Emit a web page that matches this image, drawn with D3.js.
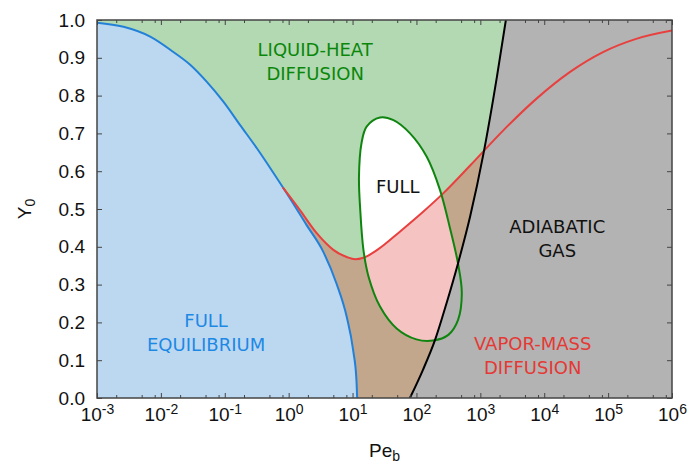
<!DOCTYPE html>
<html>
  <head>
    <meta http-equiv="Content-Type" content="text/html;charset=utf-8">
    <title>Regime map</title>
    <script type="text/javascript" src="https://d3js.org/d3.v7.min.js"></script>
    <style>
      body {
        margin: 0;
        background: #fff;
      }
      .axis text {
        font-family: 'Liberation Sans', Arial, sans-serif;
        font-size: 19px;
        fill: #111;
      }
      .axis line {
        stroke: #444;
        stroke-width: 1;
      }
      .axis path.domain {
        display: none;
      }
      text.title {
        font-family: 'Liberation Sans', Arial, sans-serif;
        font-size: 19px;
        fill: #111;
      }
      text.region {
        font-family: 'DejaVu Sans', sans-serif;
        font-size: 18px;
        text-anchor: middle;
      }
      path.curve {
        fill: none;
        stroke-width: 2px;
      }
    </style>
  </head>
  <body>
    <div id="chart"></div>
    <script>
// Pe_b - Y0 regime map, curves as [Pe, Y0]

var fullEquilibrium = [
  [0.001, 0.993], [0.0026, 0.982], [0.0068, 0.956], [0.0155, 0.916], [0.029, 0.881],
  [0.052, 0.837], [0.095, 0.784], [0.174, 0.722], [0.32, 0.660], [0.575, 0.596],
  [1.05, 0.528], [1.9, 0.458], [3.5, 0.386], [5.6, 0.303], [8.1, 0.215],
  [10.2, 0.127], [11.5, 0.048], [11.8, 0.0]
];

var vaporMass = [
  [0.81, 0.557], [1.5, 0.497], [2.75, 0.436], [5.0, 0.392], [8.1, 0.373],
  [11, 0.367], [14.8, 0.371], [25, 0.393], [55, 0.440], [126, 0.492],
  [257, 0.540], [692, 0.615], [2290, 0.708], [7590, 0.792], [25100, 0.862],
  [83200, 0.915], [275000, 0.950], [1000000, 0.972]
];

var adiabaticGas = [
  [79, 0.0], [126, 0.074], [195, 0.153], [295, 0.25], [447, 0.356],
  [692, 0.48], [1122, 0.647], [1820, 0.85], [2510, 1.0]
];

var liquidHeatLoop = [
  [26.9, 0.742], [16.6, 0.718], [13.8, 0.674], [12.6, 0.585], [13.2, 0.497],
  [14.8, 0.392], [17.8, 0.321], [26.9, 0.242], [49, 0.184], [100, 0.155],
  [182, 0.152], [316, 0.167], [447, 0.206], [513, 0.277], [447, 0.356],
  [331, 0.453], [234, 0.550], [145, 0.638], [79.4, 0.700], [43.7, 0.735]
];

var xTicks = [1e-3, 1e-2, 1e-1, 1e0, 1e1, 1e2, 1e3, 1e4, 1e5, 1e6];
var xMinor = [2, 5, 8];
var yTicks = [0, 0.1, 0.2, 0.3, 0.4, 0.5, 0.6, 0.7, 0.8, 0.9, 1.0];

var labels = [
  {lines: ["LIQUID-HEAT", "DIFFUSION"], pe: 2.6, y0: 0.905, color: "#0a870a"},
  {lines: ["FULL"], pe: 51, y0: 0.542, color: "#111"},
  {lines: ["ADIABATIC", "GAS"], pe: 16000, y0: 0.437, color: "#111"},
  {lines: ["FULL", "EQUILIBRIUM"], pe: 0.051, y0: 0.188, color: "#1e88e5"},
  {lines: ["VAPOR-MASS", "DIFFUSION"], pe: 6600, y0: 0.127, color: "#e53935"}
];

var width = 691,
    height = 467,
    pLeft = 97, pRight = 672, pTop = 20, pBottom = 398;

var x = d3.scaleLog().domain([1e-3, 1e6]).range([pLeft, pRight]);
var y = d3.scaleLinear().domain([0, 1]).range([pBottom, pTop]);

var svg = d3.select("#chart").append("svg")
    .attr("width", width)
    .attr("height", height);

var smooth = d3.line()
    .x(function(d) { return x(d[0]); })
    .y(function(d) { return y(d[1]); })
    .curve(d3.curveMonotoneX);

var loop = d3.line()
    .x(function(d) { return x(d[0]); })
    .y(function(d) { return y(d[1]); })
    .curve(d3.curveCatmullRomClosed.alpha(0.5));

var under = d3.area()
    .x(function(d) { return x(d[0]); })
    .y0(y(0))
    .y1(function(d) { return y(d[1]); })
    .curve(d3.curveMonotoneX);

var defs = svg.append("defs");
defs.append("clipPath").attr("id", "plot")
  .append("rect")
    .attr("x", pLeft).attr("y", pTop)
    .attr("width", pRight - pLeft).attr("height", pBottom - pTop);
defs.append("clipPath").attr("id", "belowRed")
  .append("path")
    .attr("d", under(vaporMass));

var plot = svg.append("g").attr("clip-path", "url(#plot)");

// liquid-heat background
plot.append("rect")
    .attr("x", pLeft).attr("y", pTop)
    .attr("width", pRight - pLeft).attr("height", pBottom - pTop)
    .attr("fill", "#b3d9b3");

plot.append("path")
    .attr("d", under(vaporMass))
    .attr("fill", "#c3a78c");

// FULL region inside the loop: white above red, pink below
plot.append("path")
    .attr("d", loop(liquidHeatLoop))
    .attr("fill", "#fff");
plot.append("g").attr("clip-path", "url(#belowRed)")
  .append("path")
    .attr("d", loop(liquidHeatLoop))
    .attr("fill", "#f6c3c3");

plot.append("path")
    .attr("d", under(fullEquilibrium))
    .attr("fill", "#bcd8f0");

// adiabatic gas: everything right of the black curve
plot.append("path")
    .attr("d", smooth(adiabaticGas) + "L" + x(1e6) + "," + y(1) + "L" + x(1e6) + "," + y(0) + "Z")
    .attr("fill", "#b3b3b3");

plot.append("path").attr("class", "curve")
    .attr("d", smooth(fullEquilibrium))
    .attr("stroke", "#2280d8");
plot.append("path").attr("class", "curve")
    .attr("d", smooth(vaporMass))
    .attr("stroke", "#e8403f");
plot.append("path").attr("class", "curve")
    .attr("d", loop(liquidHeatLoop))
    .attr("stroke", "#0f850f");
plot.append("path").attr("class", "curve")
    .attr("d", smooth(adiabaticGas))
    .attr("stroke", "#000");

// region names
labels.forEach(function(l) {
  var t = svg.append("text")
      .attr("class", "region")
      .attr("fill", l.color)
      .attr("x", x(l.pe))
      .attr("y", y(l.y0));
  l.lines.forEach(function(s, i) {
    t.append("tspan")
        .attr("x", x(l.pe))
        .attr("dy", i == 0 ? 0 : "1.35em")
        .text(s);
  });
});

// axes, ticks inward on all four sides
var minors = [];
xTicks.slice(0, -1).forEach(function(d) {
  xMinor.forEach(function(m) { minors.push(d * m); });
});

svg.append("g").attr("class", "axis")
    .attr("transform", "translate(0," + pBottom + ")")
    .call(d3.axisBottom(x).tickValues(xTicks).tickSize(-5).tickPadding(10)
      .tickFormat(function() { return "10"; }))
  .selectAll(".tick text")
    .each(function(d) {
      d3.select(this).append("tspan")
          .attr("dy", "-0.55em")
          .attr("font-size", "14px")
          .text(Math.round(Math.log10(d)));
    });
svg.append("g").attr("class", "axis")
    .attr("transform", "translate(0," + pBottom + ")")
    .call(d3.axisBottom(x).tickValues(minors).tickSize(-3).tickFormat(""));
svg.append("g").attr("class", "axis")
    .attr("transform", "translate(0," + pTop + ")")
    .call(d3.axisTop(x).tickValues(xTicks).tickSize(-5).tickFormat(""));
svg.append("g").attr("class", "axis")
    .attr("transform", "translate(0," + pTop + ")")
    .call(d3.axisTop(x).tickValues(minors).tickSize(-3).tickFormat(""));

svg.append("g").attr("class", "axis")
    .attr("transform", "translate(" + pLeft + ",0)")
    .call(d3.axisLeft(y).tickValues(yTicks).tickSize(-5).tickPadding(12)
      .tickFormat(d3.format(".1f")));
svg.append("g").attr("class", "axis")
    .attr("transform", "translate(" + pRight + ",0)")
    .call(d3.axisRight(y).tickValues(yTicks).tickSize(-5).tickFormat(""));

svg.append("rect")
    .attr("x", pLeft).attr("y", pTop)
    .attr("width", pRight - pLeft).attr("height", pBottom - pTop)
    .attr("fill", "none")
    .attr("stroke", "#444")
    .attr("stroke-width", 1.5);

// axis titles
var xt = svg.append("text").attr("class", "title")
    .attr("x", (pLeft + pRight) / 2).attr("y", 457)
    .attr("text-anchor", "middle");
xt.append("tspan").text("Pe");
xt.append("tspan").attr("dy", "0.3em").attr("font-size", "14px").text("b");

var yt = svg.append("text").attr("class", "title")
    .attr("transform", "translate(31," + (pTop + pBottom) / 2 + ") rotate(-90)")
    .attr("text-anchor", "middle");
yt.append("tspan").text("Y");
yt.append("tspan").attr("dy", "0.3em").attr("font-size", "14px").text("0");
    </script>
  </body>
</html>
